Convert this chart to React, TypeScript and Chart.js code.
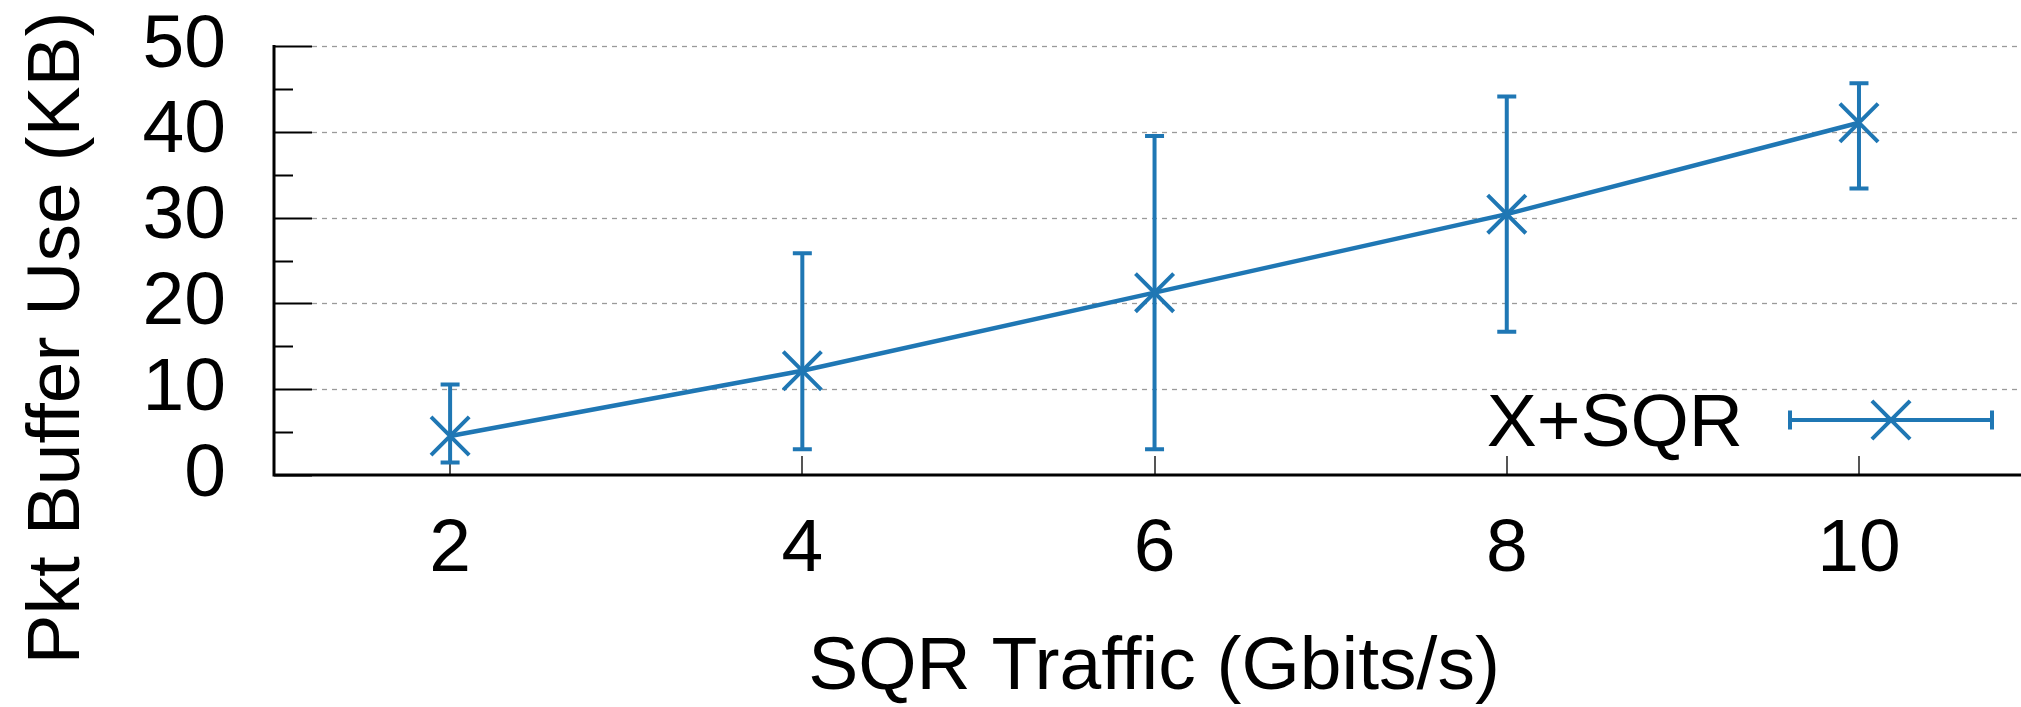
import React, { useEffect, useRef } from "react";
import { Chart, registerables } from "chart.js";

Chart.register(...registerables);

// ---- data ----
const xValues = [2, 4, 6, 8, 10];
const meanValues = [4.55, 12.15, 21.25, 30.4, 41.05];
const lowValues = [1.45, 3.0, 3.0, 16.7, 33.4];
const highValues = [10.55, 25.85, 39.5, 44.1, 45.65];
const xTickValues = [2, 4, 6, 8, 10];
const yTickValues = [0, 10, 20, 30, 40, 50];
const yMinorTickValues = [5, 15, 25, 35, 45];
const seriesLabel = "X+SQR";
const xTitle = "SQR Traffic (Gbits/s)";
const yTitle = "Pkt Buffer Use (KB)";

const FONT = '"Liberation Sans", Arial, Helvetica, sans-serif';
const BLUE = "#1f77b4";
const FONT_SIZE = 75;

const drawCross = (ctx: CanvasRenderingContext2D, cx: number, cy: number, r: number) => {
  const o = Math.cos(Math.PI / 4) * r;
  ctx.beginPath();
  ctx.moveTo(cx - o, cy - o);
  ctx.lineTo(cx + o, cy + o);
  ctx.moveTo(cx + o, cy - o);
  ctx.lineTo(cx - o, cy + o);
  ctx.stroke();
};

const decorPlugin = {
  id: "decor",
  beforeDatasetsDraw(chart: any) {
    const { ctx, chartArea, scales } = chart;
    const x = scales.x;
    const y = scales.y;
    const left = chartArea.left;
    ctx.save();
    // dashed grid
    ctx.strokeStyle = "#9a9a9a";
    ctx.lineWidth = 1.3;
    ctx.setLineDash([5, 5]);
    for (const v of yTickValues) {
      if (v === 0) continue;
      const py = Math.round(y.getPixelForValue(v)) + 0.5;
      ctx.beginPath();
      ctx.moveTo(left + 38, py);
      ctx.lineTo(chartArea.right, py);
      ctx.stroke();
    }
    ctx.setLineDash([]);
    // y major ticks
    ctx.strokeStyle = "#000";
    ctx.lineWidth = 2;
    for (const v of yTickValues) {
      const py = Math.round(y.getPixelForValue(v)) + 0.5;
      ctx.beginPath();
      ctx.moveTo(left, py);
      ctx.lineTo(left + 38, py);
      ctx.stroke();
    }
    for (const v of yMinorTickValues) {
      const py = Math.round(y.getPixelForValue(v)) + 0.5;
      ctx.beginPath();
      ctx.moveTo(left, py);
      ctx.lineTo(left + 19, py);
      ctx.stroke();
    }
    // x ticks (inward, gray)
    ctx.strokeStyle = "#555";
    ctx.lineWidth = 2;
    for (const v of xTickValues) {
      const px = Math.round(x.getPixelForValue(v));
      ctx.beginPath();
      ctx.moveTo(px, chartArea.bottom);
      ctx.lineTo(px, chartArea.bottom - 19);
      ctx.stroke();
    }
    // axes
    ctx.strokeStyle = "#000";
    ctx.lineWidth = 3;
    ctx.beginPath();
    ctx.moveTo(left, chartArea.top - 1);
    ctx.lineTo(left, chartArea.bottom + 1.5);
    ctx.moveTo(left - 1.5, chartArea.bottom);
    ctx.lineTo(chartArea.right, chartArea.bottom);
    ctx.stroke();
    ctx.restore();
  },
  afterDatasetsDraw(chart: any) {
    const { ctx, scales } = chart;
    const x = scales.x;
    const y = scales.y;
    ctx.save();
    // error bars
    ctx.strokeStyle = BLUE;
    ctx.lineWidth = 4;
    xValues.forEach((xv, i) => {
      const px = x.getPixelForValue(xv);
      const pLo = y.getPixelForValue(lowValues[i]);
      const pHi = y.getPixelForValue(highValues[i]);
      ctx.beginPath();
      ctx.moveTo(px, pLo);
      ctx.lineTo(px, pHi);
      ctx.moveTo(px - 9.5, pLo);
      ctx.lineTo(px + 9.5, pLo);
      ctx.moveTo(px - 9.5, pHi);
      ctx.lineTo(px + 9.5, pHi);
      ctx.stroke();
    });
    // legend
    ctx.fillStyle = "#000";
    ctx.font = `${FONT_SIZE}px ${FONT}`;
    ctx.textAlign = "right";
    ctx.textBaseline = "alphabetic";
    ctx.fillText(seriesLabel, 1743, 446);
    const ly = 420;
    const lx1 = 1790;
    const lx2 = 1992;
    ctx.strokeStyle = BLUE;
    ctx.lineWidth = 4;
    ctx.beginPath();
    ctx.moveTo(lx1, ly);
    ctx.lineTo(lx2, ly);
    ctx.moveTo(lx1, ly - 9.5);
    ctx.lineTo(lx1, ly + 9.5);
    ctx.moveTo(lx2, ly - 9.5);
    ctx.lineTo(lx2, ly + 9.5);
    ctx.stroke();
    drawCross(ctx, (lx1 + lx2) / 2, ly, 27);
    // x title
    ctx.textAlign = "center";
    ctx.fillText(xTitle, 1154, 689);
    // y title
    ctx.translate(79, 338);
    ctx.rotate(-Math.PI / 2);
    ctx.fillText(yTitle, 0, 0);
    ctx.restore();
  },
};

export default function App() {
  const canvasRef = useRef<HTMLCanvasElement | null>(null);

  useEffect(() => {
    const canvas = canvasRef.current;
    if (!canvas) return;
    const chart = new Chart(canvas, {
      type: "line",
      data: {
        datasets: [
          {
            label: seriesLabel,
            data: xValues.map((xv, i) => ({ x: xv, y: meanValues[i] })),
            borderColor: BLUE,
            backgroundColor: BLUE,
            borderWidth: 4.5,
            pointStyle: "crossRot",
            pointRadius: 27,
            pointBorderWidth: 4,
            pointHoverRadius: 27,
            pointBorderColor: BLUE,
            tension: 0,
            clip: false as any,
          },
        ],
      },
      options: {
        animation: false,
        responsive: false,
        devicePixelRatio: 1,
        events: [],
        layout: { autoPadding: false, padding: { left: 0, top: 46, right: 0, bottom: 0 } },
        plugins: {
          legend: { display: false },
          title: { display: false },
          tooltip: { enabled: false },
        },
        scales: {
          x: {
            type: "linear",
            min: 1,
            max: 10.92,
            grid: { display: false, drawTicks: false },
            border: { display: false },
            afterBuildTicks: (scale: any) => {
              scale.ticks = xTickValues.map((v) => ({ value: v }));
            },
            afterFit: (scale: any) => {
              scale.height = 232;
              scale.paddingLeft = 0;
              scale.paddingRight = 0;
            },
            ticks: {
              autoSkip: false,
              maxRotation: 0,
              padding: 30,
              color: "#000",
              font: { family: FONT, size: FONT_SIZE },
              callback: (v: any) => String(v),
            },
          },
          y: {
            type: "linear",
            min: 0,
            max: 50,
            grid: { display: false, drawTicks: false },
            border: { display: false },
            afterBuildTicks: (scale: any) => {
              scale.ticks = yTickValues.map((v) => ({ value: v }));
            },
            afterFit: (scale: any) => {
              scale.width = 274;
              scale.paddingTop = 0;
              scale.paddingBottom = 0;
            },
            ticks: {
              autoSkip: false,
              padding: 48,
              color: "#000",
              font: { family: FONT, size: FONT_SIZE },
              callback: (v: any) => String(v),
            },
          },
        },
      },
      plugins: [decorPlugin],
    });
    return () => chart.destroy();
  }, []);

  return (
    <div style={{ position: "fixed", left: 0, top: 0, width: 2021, height: 707, background: "#fff" }}>
      <canvas ref={canvasRef} width={2021} height={707} style={{ display: "block" }} />
    </div>
  );
}
